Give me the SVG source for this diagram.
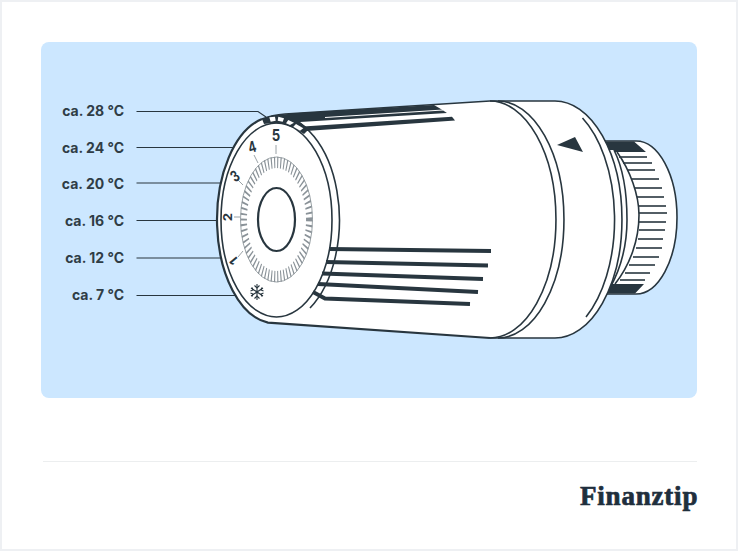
<svg xmlns="http://www.w3.org/2000/svg" width="738" height="551" viewBox="0 0 738 551">
<style>
.ln{fill:none;stroke:#28363f;stroke-width:1.6}
.hv{fill:none;stroke:#28363f;stroke-width:2.2}
.th{fill:none;stroke:#28363f;stroke-width:1.1}
.d{fill:#28363f}
.w{fill:#fff}
.st{fill:none;stroke:#28363f;stroke-width:3.8}
.lb{font:700 14px Inter,"Liberation Sans",sans-serif;fill:#2f3d46;text-anchor:end}
.nm{font:700 15.500px Inter,"Liberation Sans",sans-serif;fill:#28363f;text-anchor:middle}
.g{fill:none;stroke:#8f979c;stroke-width:.9}
.rb{stroke:#28363f;stroke-width:1.6}
</style>
<rect width="738" height="551" fill="#fff"/>
<rect x="1" y="1" width="736" height="549" fill="none" stroke="#eef0f3" stroke-width="2"/>
<rect x="41" y="42" width="656" height="356" rx="8" fill="#cce7ff"/>
<line x1="43" y1="461.500" x2="697" y2="461.500" stroke="#eceeef"/>
<g id="connectors">
<path class="th" d="M136.500 111.500H258L266 117"/>
<path class="th" d="M136.500 147.500H236"/>
<path class="th" d="M136.500 183H222"/>
<path class="th" d="M136.500 220.500H219"/>
<path class="th" d="M136.500 258H224"/>
<path class="th" d="M136.500 295.500H236"/>
</g>
<g id="knob">
<path class="w" d="M600 141H636A41 76.500 0 0 1 636 294H600Z"/>
<path class="ln" d="M600 141H636A41 76.500 0 0 1 636 294H600"/>
<path class="d" d="M600 141.500H634L646 152H610ZM600 293.500H635L644 284H606Z"/>
<g class="rb">
<line x1="619" y1="157" x2="647" y2="157"/><line x1="623" y1="163" x2="652" y2="163"/><line x1="627" y1="170" x2="655" y2="170"/><line x1="632" y1="179" x2="659" y2="179"/><line x1="635" y1="188" x2="662" y2="188"/><line x1="637" y1="197" x2="664" y2="197"/><line x1="639" y1="206" x2="666" y2="206"/><line x1="639" y1="213" x2="667" y2="213"/><line x1="639" y1="222" x2="666" y2="222"/><line x1="639" y1="230" x2="665" y2="230"/><line x1="638" y1="239" x2="663" y2="239"/><line x1="636" y1="248" x2="662" y2="248"/><line x1="633" y1="257" x2="659" y2="257"/><line x1="629" y1="265" x2="655" y2="265"/><line x1="625" y1="273" x2="650" y2="273"/><line x1="620" y1="280" x2="645" y2="280"/>
</g>
<path class="ln" d="M617 152C630 170 639 195 639 215C639 240 630 265 615 284"/>
<path class="w" d="M614 150C623 168 627 195 627 220C627 245 621 268 610 288L600 288V150Z"/>
<path class="ln" d="M614 150C623 168 627 195 627 220C627 245 621 268 610 288"/>
</g>
<g id="body">
<path class="w" d="M490 101H555A67 118.500 0 0 1 555 338H490L268 322.600A58 103.500 0 0 1 262 119L285 114Z"/>
<path class="ln" d="M490 338H555A67 118.500 0 0 0 555 101H490L285 114Q272 115 262 119"/>
<path class="ln" d="M490 101A66 118.500 0 0 1 490 338"/>
<path class="ln" d="M498 101A66 118.500 0 0 1 498 338"/>
<path class="ln" d="M582.500 118A67 119 0 0 1 586 317"/>
<polygon id="arrow" class="d" points="557,145 575,137 583,152"/>
</g>
<g id="face">
<path class="hv" d="M262 119A58 103.500 0 0 0 268 322.600L490 338"/>
<path class="ln" d="M276 116A63 104 0 0 1 310 308"/>
<ellipse cx="276.500" cy="220" rx="55.500" ry="97" class="ln"/>
<path class="d" d="M262 119L272 115.500L298 113L434 105L440 108.500L447 113L300 122L309 129L304 134L296 129L284 124L272 123L264 124Z"/>
<path d="M325 117.500L443 110" fill="none" stroke="#fff" stroke-width="1"/>
<path class="d" d="M303 126.500L452 116.800L455 120.500L306 131Z"/>
<path class="st" d="M329 249L491 251"/>
<path class="st" d="M326 262L488 265.500"/>
<path class="st" d="M322 273.500L483 279"/>
<path class="st" d="M318 284L478 292"/>
<path class="st" d="M313 292L325 298.500L470 304"/>
<polygon class="w" points="269.300,117.300 275,116.700 275.700,120.700 270.700,121.700"/>
<polygon class="w" points="278.300,116.700 284,118.300 282.700,121.700 277.700,120.700"/>
<polygon class="w" points="288.300,120 294,122.700 290,125 286,123.300"/>
<polygon class="w" points="296,124 303.300,128.300 300,130.700 293.300,126.700"/>
<ellipse class="g" cx="276.500" cy="219.500" rx="36" ry="62.500"/>
<circle cx="0" cy="0" r="32.800" transform="translate(276.500 219.500) scale(1 1.74)" fill="none" stroke="#8a9298" stroke-width="6.500" stroke-dasharray="1.100 2.000"/>
<ellipse cx="276.500" cy="219.500" rx="18.500" ry="31.500" class="hv"/>
<g class="g">
<line x1="276" y1="145" x2="276" y2="154"/><line x1="254" y1="155" x2="258" y2="163"/><line x1="238" y1="180" x2="243" y2="185"/><line x1="234" y1="217" x2="240" y2="217"/><line x1="238" y1="257" x2="243" y2="251"/>
</g>
<text class="nm" y="5.500" transform="translate(276 135) scale(.85 1)">5</text>
<text class="nm" y="5.500" transform="translate(252 147) rotate(-15) scale(.75 1)">4</text>
<text class="nm" y="5.500" transform="translate(235 176) rotate(-35) scale(.75 1)">3</text>
<text class="nm" y="5.500" transform="translate(228 217) rotate(-90) scale(.85 .8)">2</text>
<text class="nm" y="5.500" transform="translate(234 261) rotate(-130) scale(.85 .8)">1</text>
<g id="snow" fill="none" stroke="#28363f" stroke-width="1.100">
<path d="M257 284V300M251 288L263 296M263 288L251 296"/>
<path d="M254.500 285.500L257 288L259.500 285.500M254.500 298.500L257 296L259.500 298.500M250.500 291L253 290L252 287.500M263.500 293L261 294L262 296.500M263.500 291L261 290L262 287.500M250.500 293L253 294L252 296.500"/>
</g>
</g>
<g id="labels">
<text class="lb" x="124" y="116">ca. 28 °C</text>
<text class="lb" x="124" y="152.500">ca. 24 °C</text>
<text class="lb" x="124" y="189">ca. 20 °C</text>
<text class="lb" x="124" y="225.500">ca. 16 °C</text>
<text class="lb" x="124" y="262.500">ca. 12 °C</text>
<text class="lb" x="124" y="299.500">ca. 7 °C</text>
</g>
<text id="logo" x="580" y="505" font-family="'Liberation Serif',serif" font-weight="700" font-size="27" letter-spacing=".8" fill="#1f2f3d" stroke="#1f2f3d" stroke-width=".7">Finanztip</text>
</svg>
